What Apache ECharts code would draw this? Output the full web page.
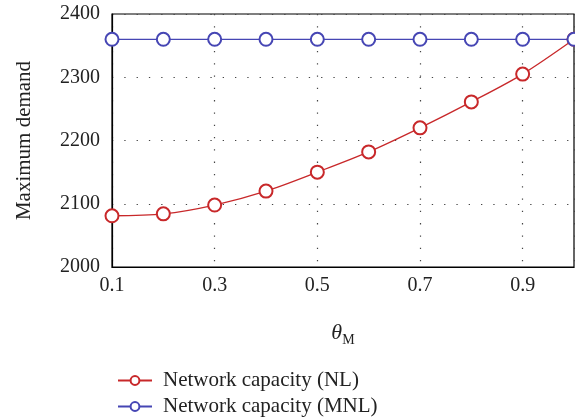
<!DOCTYPE html>
<html>
<head>
<meta charset="utf-8">
<script src="https://cdn.jsdelivr.net/npm/echarts@6/dist/echarts.min.js"></script>
<style>
  html, body { margin: 0; padding: 0; background: #fff; }
  #main { width: 575px; height: 417px; }
</style>
</head>
<body>
<div id="main"></div>
<script>
// theta_M values along x
const thetaM = [0.1, 0.2, 0.3, 0.4, 0.5, 0.6, 0.7, 0.8, 0.9, 1.0];
// maximum demand
const capacityNL = [2081, 2084, 2098, 2120, 2150, 2182, 2220, 2261, 2305, 2360];
const capacityMNL = [2360, 2360, 2360, 2360, 2360, 2360, 2360, 2360, 2360, 2360];
const seriesNames = ['Network capacity (NL)', 'Network capacity (MNL)'];

const font = 'Liberation Serif';
const red = '#c8282a';
const blue = '#4646b4';
const dotted = { color: '#444', type: [1.3, 11], width: 1.2 };

function pairs(ys) {
  return thetaM.map((x, i) => [x, ys[i]]);
}

// one legend per row so they stack like the original
function legendRow(name, top) {
  return {
    left: 112,
    top: top,
    itemWidth: 34,
    itemHeight: 11,
    textStyle: { fontFamily: font, fontSize: 21, color: '#222', padding: [0, 0, 0, 6] },
    data: [name],
  };
}

const myChart = echarts.init(document.getElementById('main'));
const option = {
  animation: false,
  textStyle: { fontFamily: font },
  grid: {
    left: 112, right: 1, top: 14, bottom: 150,
    show: true, borderColor: '#000', borderWidth: 1.2,
  },
  legend: [legendRow(seriesNames[0], 365), legendRow(seriesNames[1], 391)],
  xAxis: {
    type: 'value',
    min: 0.1,
    max: 1.0,
    interval: 0.2,
    name: '{t|θ}{s|M}',
    nameLocation: 'middle',
    nameGap: 52,
    nameTextStyle: {
      rich: {
        t: { fontFamily: font, fontStyle: 'italic', fontSize: 22, color: '#222' },
        s: { fontFamily: font, fontSize: 14, color: '#222', padding: [14, 0, 0, 0] },
      },
    },
    axisLine: { lineStyle: { color: '#000', width: 1.2 } },
    axisTick: { show: false },
    axisLabel: {
      fontFamily: font, fontSize: 20, color: '#222', margin: 9,
      showMaxLabel: false,
      formatter: v => v.toFixed(1),
    },
    splitLine: { show: true, lineStyle: dotted },
  },
  yAxis: {
    type: 'value',
    min: 2000,
    max: 2400,
    interval: 100,
    name: 'Maximum demand',
    nameLocation: 'middle',
    nameGap: 77,
    nameTextStyle: { fontFamily: font, fontSize: 21, color: '#222' },
    axisLine: { show: true, lineStyle: { color: '#000', width: 1.2 } },
    axisTick: { show: false },
    axisLabel: { fontFamily: font, fontSize: 20, color: '#222', margin: 12, formatter: v => String(v) },
    splitLine: { show: true, lineStyle: dotted },
  },
  series: [
    {
      name: seriesNames[0],
      type: 'line',
      data: pairs(capacityNL),
      smooth: 0.3,
      symbol: 'emptyCircle',
      symbolSize: 13,
      clip: false,
      color: red,
      lineStyle: { width: 1.3 },
      itemStyle: { borderWidth: 1.3 },
    },
    {
      name: seriesNames[1],
      type: 'line',
      data: pairs(capacityMNL),
      symbol: 'emptyCircle',
      symbolSize: 13,
      clip: false,
      color: blue,
      lineStyle: { width: 1.3 },
      itemStyle: { borderWidth: 1.3 },
    },
  ],
};
myChart.setOption(option);
</script>
</body>
</html>
